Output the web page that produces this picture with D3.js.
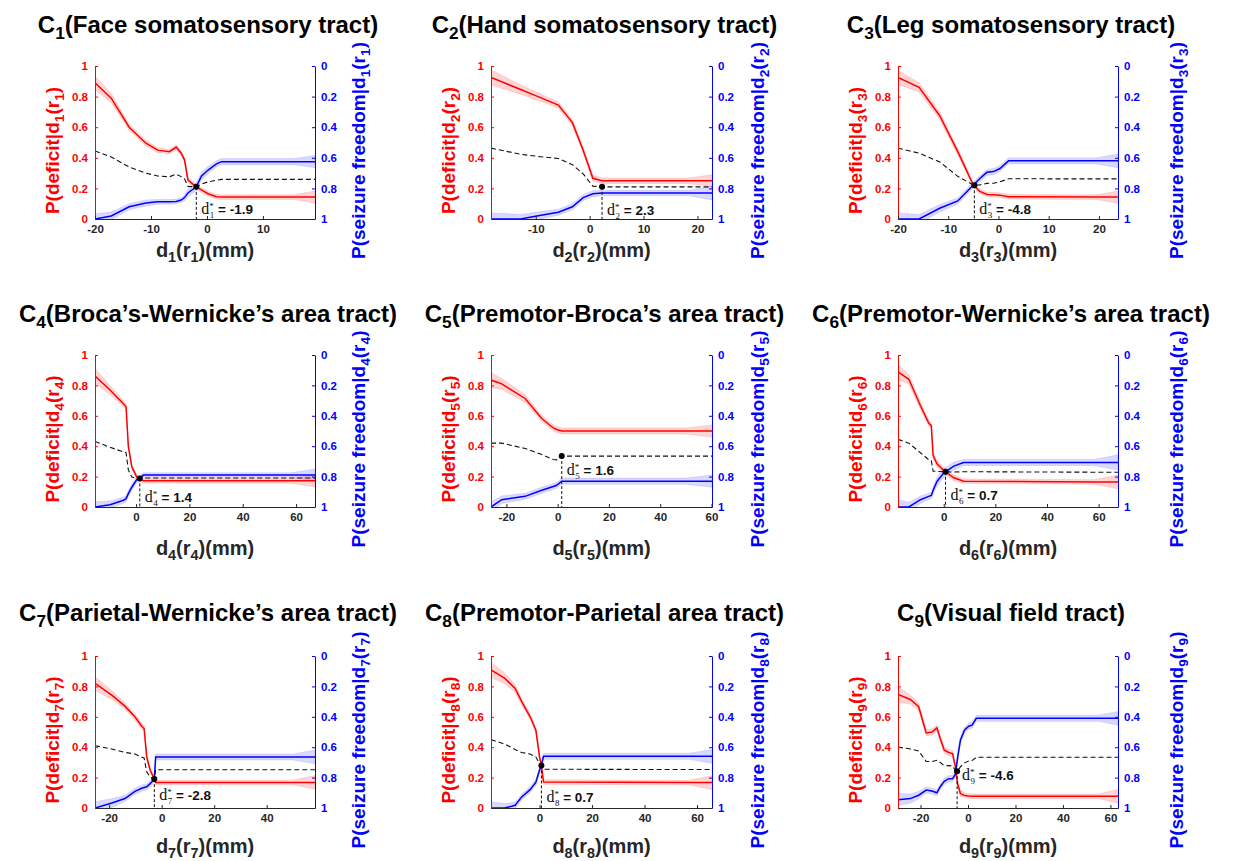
<!DOCTYPE html>
<html>
<head>
<meta charset="utf-8">
<script src="https://cdn.jsdelivr.net/npm/d3@7"></script>
<style>
  body { margin: 0; background: #fff; }
  text { font-family: "Liberation Sans", Arial, sans-serif; font-weight: bold; }
</style>
</head>
<body>
<svg width="1236" height="861"></svg>
<script>
/* global d3 */

const tracts = [
  'Face somatosensory tract', 'Hand somatosensory tract', 'Leg somatosensory tract',
  'Broca\u2019s-Wernicke\u2019s area tract', 'Premotor-Broca\u2019s area tract', 'Premotor-Wernicke\u2019s area tract',
  'Parietal-Wernicke\u2019s area tract', 'Premotor-Parietal area tract', 'Visual field tract',
];

// distance d_i(r_i) in mm
const distances = [
  [-20, -17.1, -13.9, -10.9, -8.8, -6.7, -5.5, -4.6, -4.0, -3.4, -1.9, -1.0, 0.2, 1.7, 2.6, 15.5, 19.3],
  [-18.3, -12.8, -9.8, -5.8, -3.2, -1.2, 0.6, 2.3, 18.5, 22.7],
  [-20, -15.8, -11.7, -8.1, -5.0, -3.7, -2.3, -1.0, 0.3, 2.0, 19.5, 23.8],
  [-15.4, -9.75, -4.75, -3.75, -2.9, -1.6, 0.25, 1.4, 2.75, 58, 67.1],
  [-26.0, -21.8, -12.7, -6.2, -1.7, -0.4, 1.6, 50, 60.2],
  [-17.7, -13.5, -9.0, -5.8, -4.8, -4.1, -2.6, 0, 3.9, 7.7, 58, 67.5],
  [-25.4, -19.0, -14.0, -10.2, -7.6, -6.7, -5.7, -4.4, -2.8, -2.3, 50, 58.4],
  [-18.5, -13.2, -9.3, -6.8, -3.6, -1.4, 0, 0.7, 1.5, 57, 65.7],
  [-29.5, -24.3, -20.8, -17.6, -15.2, -13.1, -11.7, -10.0, -8.1, -6.5, -5.3, -4.4, -3.2, -1.5, 0.3, 1.7, 3.5, 55, 63.2],
];

// P(deficit | d)
const deficit = [
  [0.89, 0.79, 0.60, 0.495, 0.45, 0.44, 0.47, 0.43, 0.385, 0.255, 0.21, 0.19, 0.165, 0.146, 0.143, 0.143, 0.143],
  [0.926, 0.846, 0.803, 0.745, 0.63, 0.45, 0.266, 0.25, 0.25, 0.25],
  [0.926, 0.86, 0.675, 0.44, 0.222, 0.18, 0.16, 0.158, 0.156, 0.145, 0.143, 0.143],
  [0.862, 0.77, 0.68, 0.66, 0.40, 0.264, 0.198, 0.185, 0.172, 0.172, 0.172],
  [0.835, 0.81, 0.714, 0.582, 0.52, 0.51, 0.5, 0.5, 0.5],
  [0.889, 0.84, 0.666, 0.552, 0.535, 0.338, 0.284, 0.24, 0.192, 0.17, 0.165, 0.165],
  [0.82, 0.743, 0.67, 0.60, 0.538, 0.523, 0.336, 0.248, 0.193, 0.168, 0.168, 0.168],
  [0.908, 0.853, 0.787, 0.70, 0.60, 0.512, 0.336, 0.28, 0.171, 0.167, 0.167],
  [0.747, 0.714, 0.666, 0.494, 0.50, 0.527, 0.457, 0.38, 0.365, 0.358, 0.27, 0.16, 0.095, 0.082, 0.079, 0.078, 0.077, 0.077, 0.077],
];

// P(seizure freedom | d), right axis (reversed)
const freedom = [
  [1.0, 0.98, 0.92, 0.895, 0.888, 0.888, 0.885, 0.876, 0.86, 0.83, 0.79, 0.72, 0.68, 0.64, 0.625, 0.625, 0.625],
  [1.0, 1.0, 0.98, 0.956, 0.92, 0.86, 0.835, 0.83, 0.83, 0.83],
  [1.0, 1.0, 0.93, 0.882, 0.778, 0.735, 0.695, 0.69, 0.67, 0.62, 0.62, 0.62],
  [1.0, 0.985, 0.956, 0.945, 0.912, 0.87, 0.82, 0.81, 0.79, 0.79, 0.79],
  [1.0, 0.952, 0.93, 0.89, 0.865, 0.857, 0.83, 0.83, 0.83],
  [1.0, 1.0, 0.952, 0.93, 0.924, 0.89, 0.832, 0.777, 0.731, 0.707, 0.707, 0.707],
  [1.0, 0.967, 0.938, 0.89, 0.87, 0.865, 0.86, 0.84, 0.81, 0.664, 0.664, 0.664],
  [1.0, 1.0, 0.982, 0.927, 0.879, 0.83, 0.75, 0.72, 0.66, 0.66, 0.66],
  [0.945, 0.938, 0.916, 0.882, 0.888, 0.9, 0.86, 0.825, 0.807, 0.807, 0.778, 0.67, 0.554, 0.488, 0.462, 0.455, 0.41, 0.41, 0.41],
];

// black dashed trade-off curve (left axis)
const combined = [
  [0.445, 0.405, 0.34, 0.30, 0.281, 0.276, 0.293, 0.277, 0.263, 0.213, 0.21, 0.228, 0.243, 0.253, 0.259, 0.259, 0.259],
  [0.463, 0.423, 0.41, 0.395, 0.355, 0.295, 0.215, 0.21, 0.21, 0.21],
  [0.463, 0.43, 0.373, 0.279, 0.222, 0.223, 0.233, 0.234, 0.243, 0.263, 0.262, 0.262],
  [0.431, 0.393, 0.362, 0.358, 0.244, 0.197, 0.189, 0.188, 0.191, 0.191, 0.191],
  [0.42, 0.42, 0.385, 0.345, 0.312, 0.31, 0.335, 0.335, 0.335],
  [0.445, 0.42, 0.357, 0.311, 0.305, 0.236, 0.234, 0.232, 0.23, 0.232, 0.229, 0.229],
  [0.41, 0.388, 0.366, 0.355, 0.334, 0.329, 0.238, 0.204, 0.19, 0.252, 0.252, 0.252],
  [0.45, 0.42, 0.385, 0.365, 0.355, 0.335, 0.293, 0.28, 0.255, 0.253, 0.253],
  [0.401, 0.388, 0.375, 0.306, 0.306, 0.314, 0.299, 0.278, 0.279, 0.276, 0.246, 0.245, 0.27, 0.297, 0.309, 0.312, 0.334, 0.334, 0.334],
];

// confidence band half-widths
const deficitBand = [
  [0.045, 0.03, 0.02, 0.02, 0.015, 0.015, 0.015, 0.015, 0.015, 0.015, 0.015, 0.015, 0.015, 0.015, 0.015, 0.015, 0.04],
  [0.05, 0.03, 0.025, 0.02, 0.02, 0.02, 0.02, 0.018, 0.018, 0.04],
  [0.045, 0.03, 0.025, 0.02, 0.015, 0.015, 0.015, 0.015, 0.015, 0.015, 0.015, 0.04],
  [0.05, 0.03, 0.02, 0.02, 0.02, 0.015, 0.015, 0.015, 0.015, 0.015, 0.04],
  [0.05, 0.035, 0.025, 0.02, 0.02, 0.02, 0.02, 0.02, 0.04],
  [0.05, 0.03, 0.025, 0.02, 0.02, 0.02, 0.02, 0.02, 0.02, 0.015, 0.015, 0.045],
  [0.045, 0.03, 0.02, 0.02, 0.02, 0.015, 0.015, 0.015, 0.015, 0.015, 0.015, 0.045],
  [0.05, 0.035, 0.025, 0.02, 0.02, 0.02, 0.02, 0.015, 0.015, 0.015, 0.045],
  [0.05, 0.03, 0.025, 0.02, 0.02, 0.02, 0.02, 0.02, 0.02, 0.02, 0.02, 0.02, 0.02, 0.015, 0.015, 0.015, 0.015, 0.015, 0.045],
];
const freedomBand = [
  [0.035, 0.025, 0.02, 0.02, 0.015, 0.015, 0.015, 0.015, 0.02, 0.025, 0.025, 0.025, 0.025, 0.02, 0.02, 0.02, 0.04],
  [0.04, 0.03, 0.025, 0.02, 0.02, 0.02, 0.02, 0.018, 0.018, 0.045],
  [0.04, 0.03, 0.025, 0.02, 0.02, 0.02, 0.02, 0.02, 0.02, 0.02, 0.02, 0.045],
  [0.035, 0.025, 0.02, 0.02, 0.02, 0.02, 0.02, 0.015, 0.015, 0.015, 0.04],
  [0.035, 0.025, 0.02, 0.02, 0.02, 0.02, 0.02, 0.02, 0.04],
  [0.05, 0.03, 0.025, 0.02, 0.02, 0.025, 0.03, 0.03, 0.025, 0.02, 0.02, 0.05],
  [0.04, 0.03, 0.02, 0.02, 0.02, 0.02, 0.02, 0.02, 0.02, 0.02, 0.02, 0.045],
  [0.04, 0.03, 0.02, 0.02, 0.02, 0.02, 0.02, 0.02, 0.02, 0.02, 0.045],
  [0.04, 0.03, 0.025, 0.02, 0.02, 0.02, 0.02, 0.02, 0.02, 0.02, 0.02, 0.025, 0.025, 0.02, 0.02, 0.02, 0.02, 0.02, 0.045],
];

// optimal distance d*, its value on the trade-off curve, and where its label sits
const optimalD = [-1.9, 2.3, -4.8, 1.4, 1.6, 0.7, -2.8, 0.7, -4.6];
const optimalY = [0.21, 0.21, 0.22, 0.188, 0.335, 0.232, 0.19, 0.28, 0.242];
const labelY = [0.063, 0.06, 0.063, 0.066, 0.242, 0.076, 0.084, 0.073, 0.22];

const xTicks = [
  [-20, -10, 0, 10], [-10, 0, 10, 20], [-20, -10, 0, 10, 20],
  [0, 20, 40, 60], [-20, 0, 20, 40, 60], [0, 20, 40, 60],
  [-20, 0, 20, 40], [0, 20, 40, 60], [-20, 0, 20, 40, 60],
];
const yTicks = [0, 0.2, 0.4, 0.6, 0.8, 1];

// layout
const colLeft = [95, 491, 898];
const colRight = [315, 712, 1118];
const rowTop = [66, 355, 656];
const rowBottom = [219, 507, 808];
const titleBase = [33, 322, 621];
const xLabelMid = [250, 548, 846];
const rightLabelGap = [43, 45, 58];

const RED = '#ff0000';
const BLUE = '#0000ff';
const DARK = '#262626';

const svg = d3.select('svg');

function richText(sel, parts, size) {
  let low = false;
  parts.forEach(([t, sub]) => {
    const span = sel.append('tspan').text(t);
    if (sub) {
      span.style('font-size', `${size * 0.72}px`);
      if (!low) { span.attr('dy', size * 0.26); low = true; }
    } else if (low) {
      span.attr('dy', -size * 0.26);
      low = false;
    }
  });
}

const fmt = v => (v < 0 ? '-' : '') + Math.abs(v).toFixed(1);

tracts.forEach((tract, i) => {
  const col = i % 3;
  const row = Math.floor(i / 3);
  const n = String(i + 1);
  const x0 = colLeft[col];
  const x1 = colRight[col];
  const y0 = rowTop[row];
  const y1 = rowBottom[row];

  const x = d3.scaleLinear().domain(d3.extent(distances[i])).range([x0, x1]);
  const yDef = d3.scaleLinear().domain([0, 1]).range([y1, y0]);
  const ySf = d3.scaleLinear().domain([0, 1]).range([y0, y1]);

  const pts = distances[i].map((d, k) => ({
    d,
    def: deficit[i][k],
    sf: freedom[i][k],
    comb: combined[i][k],
    db: deficitBand[i][k],
    fb: freedomBand[i][k],
  }));

  const g = svg.append('g');

  g.append('clipPath')
    .attr('id', `clip${i}`)
    .append('rect')
    .attr('x', x0)
    .attr('y', y0)
    .attr('width', x1 - x0)
    .attr('height', y1 - y0);

  const plot = g.append('g').attr('clip-path', `url(#clip${i})`);

  plot.append('path')
    .datum(pts)
    .attr('d', d3.area().x(p => x(p.d)).y0(p => yDef(p.def - p.db)).y1(p => yDef(p.def + p.db)))
    .style('fill', 'rgba(255,0,0,0.17)')
    .style('stroke', 'rgba(255,0,0,0.12)');

  plot.append('path')
    .datum(pts)
    .attr('d', d3.area().x(p => x(p.d)).y0(p => ySf(p.sf - p.fb)).y1(p => ySf(p.sf + p.fb)))
    .style('fill', 'rgba(0,0,255,0.15)')
    .style('stroke', 'rgba(0,0,255,0.1)');

  plot.append('path')
    .datum(pts)
    .attr('d', d3.line().x(p => x(p.d)).y(p => yDef(p.def)))
    .style('fill', 'none')
    .style('stroke', RED)
    .style('stroke-width', '1.5px');

  plot.append('path')
    .datum(pts)
    .attr('d', d3.line().x(p => x(p.d)).y(p => ySf(p.sf)))
    .style('fill', 'none')
    .style('stroke', BLUE)
    .style('stroke-width', '1.5px');

  plot.append('path')
    .datum(pts)
    .attr('d', d3.line().x(p => x(p.d)).y(p => yDef(p.comb)))
    .style('fill', 'none')
    .style('stroke', '#111')
    .style('stroke-width', '1.1px')
    .style('stroke-dasharray', '5,3');

  g.append('line')
    .attr('x1', x(optimalD[i]))
    .attr('x2', x(optimalD[i]))
    .attr('y1', yDef(optimalY[i]))
    .attr('y2', y1)
    .style('stroke', '#111')
    .style('stroke-width', '1px')
    .style('stroke-dasharray', '3,2');

  g.append('circle')
    .attr('cx', x(optimalD[i]))
    .attr('cy', yDef(optimalY[i]))
    .attr('r', 3)
    .style('fill', '#000');

  // axes
  const left = g.append('g')
    .attr('transform', `translate(${x0},0)`)
    .call(d3.axisLeft(yDef).tickValues(yTicks).tickFormat(d => String(d)).tickSizeInner(-3).tickSizeOuter(0).tickPadding(7));
  left.select('.domain').style('stroke', RED);
  left.selectAll('.tick line').style('stroke', RED);
  left.selectAll('.tick text').style('fill', RED).style('font-size', '11.5px');

  const right = g.append('g')
    .attr('transform', `translate(${x1},0)`)
    .call(d3.axisRight(ySf).tickValues(yTicks).tickFormat(d => String(d)).tickSizeInner(-3).tickSizeOuter(0).tickPadding(6));
  right.select('.domain').style('stroke', BLUE);
  right.selectAll('.tick line').style('stroke', BLUE);
  right.selectAll('.tick text').style('fill', BLUE).style('font-size', '11.5px');

  const bottom = g.append('g')
    .attr('transform', `translate(0,${y1})`)
    .call(d3.axisBottom(x).tickValues(xTicks[i]).tickFormat(d => String(d)).tickSizeInner(-3).tickSizeOuter(0).tickPadding(6));
  bottom.select('.domain').style('stroke', DARK);
  bottom.selectAll('.tick line').style('stroke', DARK);
  bottom.selectAll('.tick text').style('fill', DARK).style('font-size', '11.5px');
  svg.selectAll('.tick text').style('font-family', '"Liberation Sans", Arial, sans-serif').style('font-weight', 'bold');

  // optimum label
  const lab = g.append('text')
    .attr('x', x(optimalD[i]) + 5)
    .attr('y', yDef(labelY[i]) + 5)
    .style('fill', '#111');
  lab.append('tspan').text('d')
    .style('font-family', '"Liberation Serif", "DejaVu Serif", serif')
    .style('font-weight', 'normal')
    .style('font-size', '16px');
  lab.append('tspan').text('*')
    .attr('dy', -5)
    .style('font-family', '"Liberation Serif", serif')
    .style('font-weight', 'normal')
    .style('font-size', '9px');
  lab.append('tspan').text(n)
    .attr('dx', -4)
    .attr('dy', 9)
    .style('font-family', '"Liberation Serif", serif')
    .style('font-weight', 'normal')
    .style('font-size', '9px');
  lab.append('tspan').text(` = ${fmt(optimalD[i])}`)
    .attr('dy', -4)
    .style('font-size', '13.5px');

  // title
  const title = g.append('text')
    .attr('x', (x0 + x1) / 2 + 3)
    .attr('y', titleBase[row])
    .style('text-anchor', 'middle')
    .style('font-size', '24px')
    .style('fill', '#000');
  richText(title, [['C'], [n, true], [`(${tract})`]], 24);

  // x label
  const xl = g.append('text')
    .attr('x', (x0 + x1) / 2)
    .attr('y', xLabelMid[row] + 7)
    .style('text-anchor', 'middle')
    .style('font-size', '20px')
    .style('fill', DARK);
  richText(xl, [['d'], [n, true], ['(r'], [n, true], [')(mm)']], 20);

  // left label
  const ll = g.append('text')
    .attr('transform', `translate(${x0 - 36},${(y0 + y1) / 2 + 8}) rotate(-90)`)
    .style('text-anchor', 'middle')
    .style('font-size', '19px')
    .style('fill', RED);
  richText(ll, [['P(deficit|d'], [n, true], ['(r'], [n, true], [')']], 19);

  // right label
  const rl = g.append('text')
    .attr('transform', `translate(${x1 + rightLabelGap[col] + 7},${(y0 + y1) / 2 + 8}) rotate(-90)`)
    .style('text-anchor', 'middle')
    .style('font-size', '19px')
    .style('fill', BLUE);
  richText(rl, [['P(seizure freedom|d'], [n, true], ['(r'], [n, true], [')']], 19);
});
</script>
</body>
</html>
